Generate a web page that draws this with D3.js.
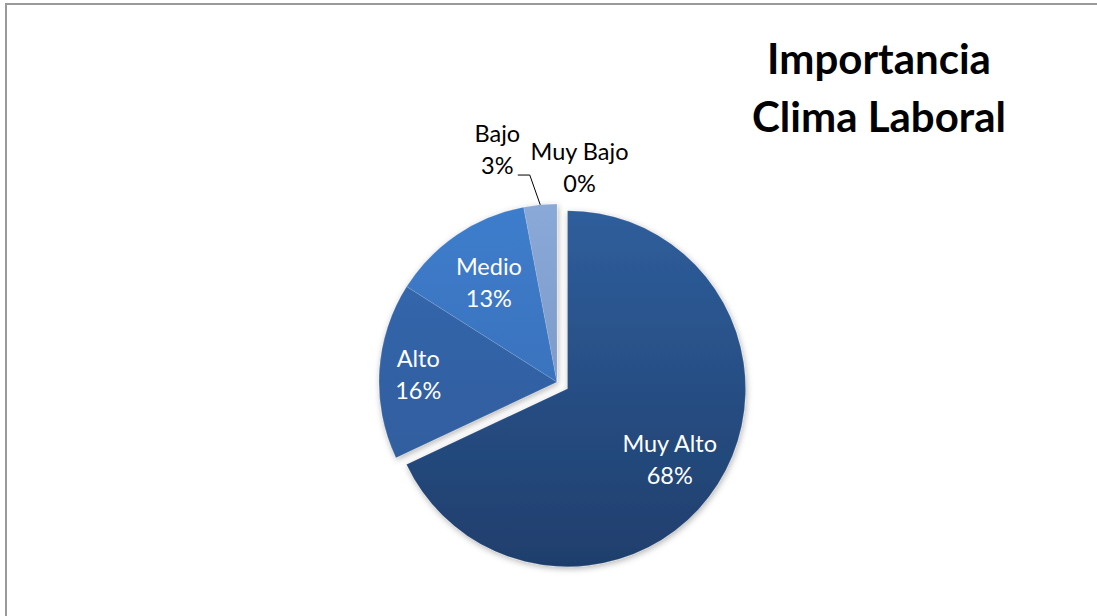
<!DOCTYPE html>
<html>
<head>
<meta charset="utf-8">
<script src="https://cdn.jsdelivr.net/npm/d3@7"></script>
<style>
  body { margin: 0; background: #fff; }
  svg text { font-family: Lato, "Open Sans", sans-serif; }
</style>
</head>
<body>
<svg id="chart" width="1097" height="616"></svg>
<script>
// chart data
const categories = [ 'Muy Alto', 'Alto', 'Medio', 'Bajo', 'Muy Bajo' ];
const values = [ 68, 16, 13, 3, 0 ];
const colorsTop = [ '#2f5e9c', '#3669b0', '#3e7dcc', '#8aa9d8', '#9ab3dc' ];
const colorsBottom = [ '#1f3e6c', '#2d5a98', '#3569b0', '#6e8bbd', '#7d97c4' ];
const titleLines = [ 'Importancia', 'Clima Laboral' ];

const svg = d3.select( '#chart' );
const W = 1097, H = 616;
const cx = 557, cy = 382, R = 178;
const explode = 12.5;

// frame
svg.append( 'path' )
  .attr( 'd', `M6,${H} L6,4 L${W},4` )
  .attr( 'fill', 'none' )
  .attr( 'stroke', '#9a9a9a' )
  .attr( 'stroke-width', 2 );

const defs = svg.append( 'defs' );
const shadow = defs.append( 'filter' )
  .attr( 'id', 'shadow' )
  .attr( 'x', '-20%' ).attr( 'y', '-20%' )
  .attr( 'width', '140%' ).attr( 'height', '140%' );
shadow.append( 'feDropShadow' )
  .attr( 'dx', 1 ).attr( 'dy', 2 )
  .attr( 'stdDeviation', 3 )
  .attr( 'flood-color', '#000' )
  .attr( 'flood-opacity', 0.3 );

categories.forEach( ( c, i ) => {
  const g = defs.append( 'linearGradient' )
    .attr( 'id', 'grad' + i )
    .attr( 'gradientUnits', 'userSpaceOnUse' )
    .attr( 'x1', 0 ).attr( 'x2', 0 )
    .attr( 'y1', -R ).attr( 'y2', R );
  g.append( 'stop' ).attr( 'offset', 0 ).attr( 'stop-color', colorsTop[ i ] );
  g.append( 'stop' ).attr( 'offset', 1 ).attr( 'stop-color', colorsBottom[ i ] );
} );

const pie = d3.pie()
  .sort( null )
  .value( d => d.v );

const arcs = pie( categories.map( ( c, i ) => ( { name: c, v: values[ i ], i } ) ) );
const arc = d3.arc().innerRadius( 0 ).outerRadius( R );

const offset = d => {
  if ( d.index !== 0 ) return [ 0, 0 ];
  const a = ( d.startAngle + d.endAngle ) / 2;
  return [ Math.sin( a ) * explode, -Math.cos( a ) * explode ];
};

const pieG = svg.append( 'g' )
  .attr( 'transform', `translate(${cx},${cy})` )
  .attr( 'filter', 'url(#shadow)' );

pieG.selectAll( 'path.slice' )
  .data( arcs.filter( d => d.value > 0 ) )
  .enter()
  .append( 'path' )
  .attr( 'class', 'slice' )
  .attr( 'transform', d => `translate(${offset(d)})` )
  .attr( 'd', arc )
  .attr( 'fill', d => `url(#grad${d.index})` )
  .attr( 'stroke', 'rgba(255,255,255,0.25)' )
  .attr( 'stroke-width', 0.5 );

// labels: inside ones near the centroid, the two small slices outside
const labelR = [ 0.725, 0.78, 0.64 ];
const labelShift = [ 0.092, -0.073, -0.044 ];
const labelG = svg.append( 'g' )
  .attr( 'transform', `translate(${cx},${cy})` );

arcs.forEach( d => {
  let x, y, fill;
  if ( d.index < 3 ) {
    const a = ( d.startAngle + d.endAngle ) / 2 + labelShift[ d.index ];
    const r = R * labelR[ d.index ];
    const o = offset( d );
    x = Math.sin( a ) * r + o[ 0 ];
    y = -Math.cos( a ) * r + o[ 1 ];
    fill = '#fff';
  } else {
    const a = d.startAngle;
    const r = d.index === 3 ? 228 : 206;
    x = Math.sin( a ) * r + ( d.index === 3 ? -17 : 22.5 );
    y = -Math.cos( a ) * r;
    fill = '#000';
  }
  const t = labelG.append( 'text' )
    .attr( 'text-anchor', 'middle' )
    .attr( 'font-size', 23.5 )
    .attr( 'fill', fill );
  t.append( 'tspan' ).attr( 'x', x ).attr( 'y', y - 16 ).text( d.data.name );
  t.append( 'tspan' ).attr( 'x', x ).attr( 'y', y + 16 ).text( Math.round( d.value ) + '%' );
  d.lx = x; d.ly = y;
} );

// leader line for Bajo
const bajo = arcs[ 3 ];
const bm = ( bajo.startAngle + bajo.endAngle ) / 2;
const ex = Math.sin( bm ) * R, ey = -Math.cos( bm ) * R;
labelG.append( 'path' )
  .attr( 'd', `M${bajo.lx + 20.5},${bajo.ly + 17} H${bajo.lx + 32.5} L${ex},${ey}` )
  .attr( 'fill', 'none' )
  .attr( 'stroke', '#000' )
  .attr( 'stroke-width', 1 );

// title
const title = svg.append( 'text' )
  .attr( 'text-anchor', 'middle' )
  .attr( 'font-weight', 'bold' )
  .attr( 'font-size', 42 )
  .attr( 'fill', '#000' );
titleLines.forEach( ( l, i ) => {
  title.append( 'tspan' )
    .attr( 'x', 879 )
    .attr( 'y', 74 + i * 58 )
    .text( l );
} );
</script>
</body>
</html>
